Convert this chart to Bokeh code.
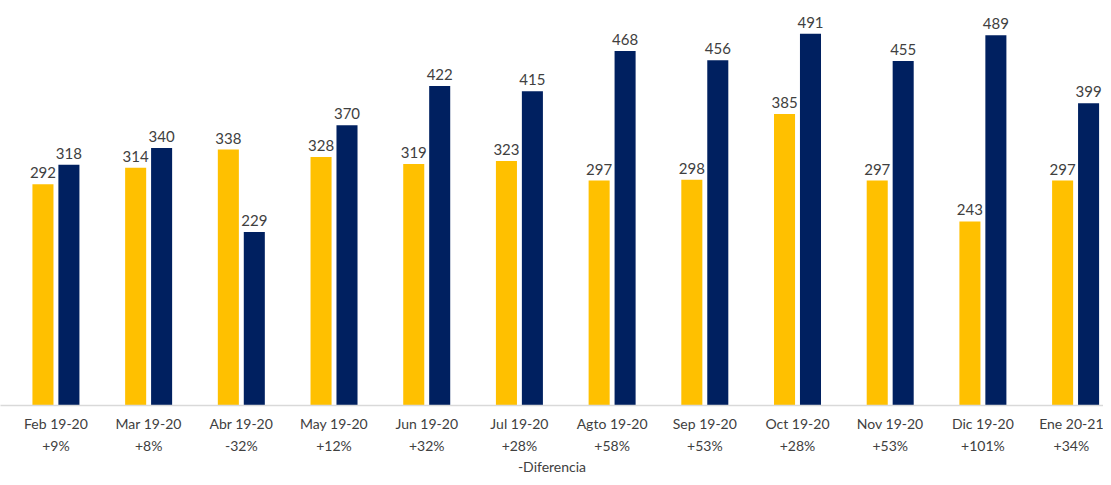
from bokeh.plotting import figure
from bokeh.models import ColumnDataSource, Range1d, FixedTicker
from bokeh.transform import dodge
from bokeh.embed import file_html
from bokeh.resources import INLINE
from bokeh.core.properties import value

months = ["Feb 19-20", "Mar 19-20", "Abr 19-20", "May 19-20", "Jun 19-20", "Jul 19-20",
          "Agto 19-20", "Sep 19-20", "Oct 19-20", "Nov 19-20", "Dic 19-20", "Ene 20-21"]
diffs = ["+9%", "+8%", "-32%", "+12%", "+32%", "+28%", "+58%", "+53%", "+28%", "+53%", "+101%", "+34%"]
prev_year = [292, 314, 338, 328, 319, 323, 297, 298, 385, 297, 243, 297]
curr_year = [318, 340, 229, 370, 422, 415, 468, 456, 491, 455, 489, 399]

idx = list(range(len(months)))
src = ColumnDataSource(dict(x=idx, a=prev_year, b=curr_year,
                            al=[str(v) for v in prev_year], bl=[str(v) for v in curr_year]))

p = figure(x_range=Range1d(-0.598, 11.301), y_range=Range1d(0, 516.3), width=1103, height=477,
           output_backend="svg", toolbar_location=None,
           min_border_left=0, min_border_right=0, min_border_top=14, min_border_bottom=60)
p.outline_line_color = None
p.grid.grid_line_color = None
p.yaxis.visible = False

YEL = "#FFC000"
NAV = "#002060"
FONT = "Lato"
OFF = 0.14
BW = 0.227

p.vbar(x=dodge("x", -OFF), top="a", width=BW, source=src, fill_color=YEL, line_color=None)
p.vbar(x=dodge("x", OFF), top="b", width=BW, source=src, fill_color=NAV, line_color=None)

for col, lab, o in (("a", "al", -OFF), ("b", "bl", OFF)):
    p.text(x=dodge("x", o), y=col, text=lab, source=src,
           text_align="center", text_baseline="bottom", y_offset=-6,
           text_font=value(FONT), text_font_size="15px", text_color="#404040")

ax = p.xaxis[0]
ax.ticker = FixedTicker(ticks=idx)
ax.major_label_overrides = {i: m + "\n" + d for i, m, d in zip(idx, months, diffs)}
ax.axis_line_color = "#d9d9d9"
ax.axis_line_width = 1.5
ax.major_tick_line_color = None
ax.minor_tick_line_color = None
ax.major_label_text_font = FONT
ax.major_label_text_font_size = "14px"
ax.major_label_text_color = "#404040"
ax.major_label_text_line_height = 1.31
ax.major_label_standoff = 3
ax.axis_label = "-Diferencia"
ax.axis_label_text_font = FONT
ax.axis_label_text_font_size = "14px"
ax.axis_label_text_font_style = "normal"
ax.axis_label_text_color = "#404040"
ax.axis_label_text_line_height = 1.0
ax.axis_label_standoff = 1

open("out.html", "w").write(file_html(p, INLINE))
